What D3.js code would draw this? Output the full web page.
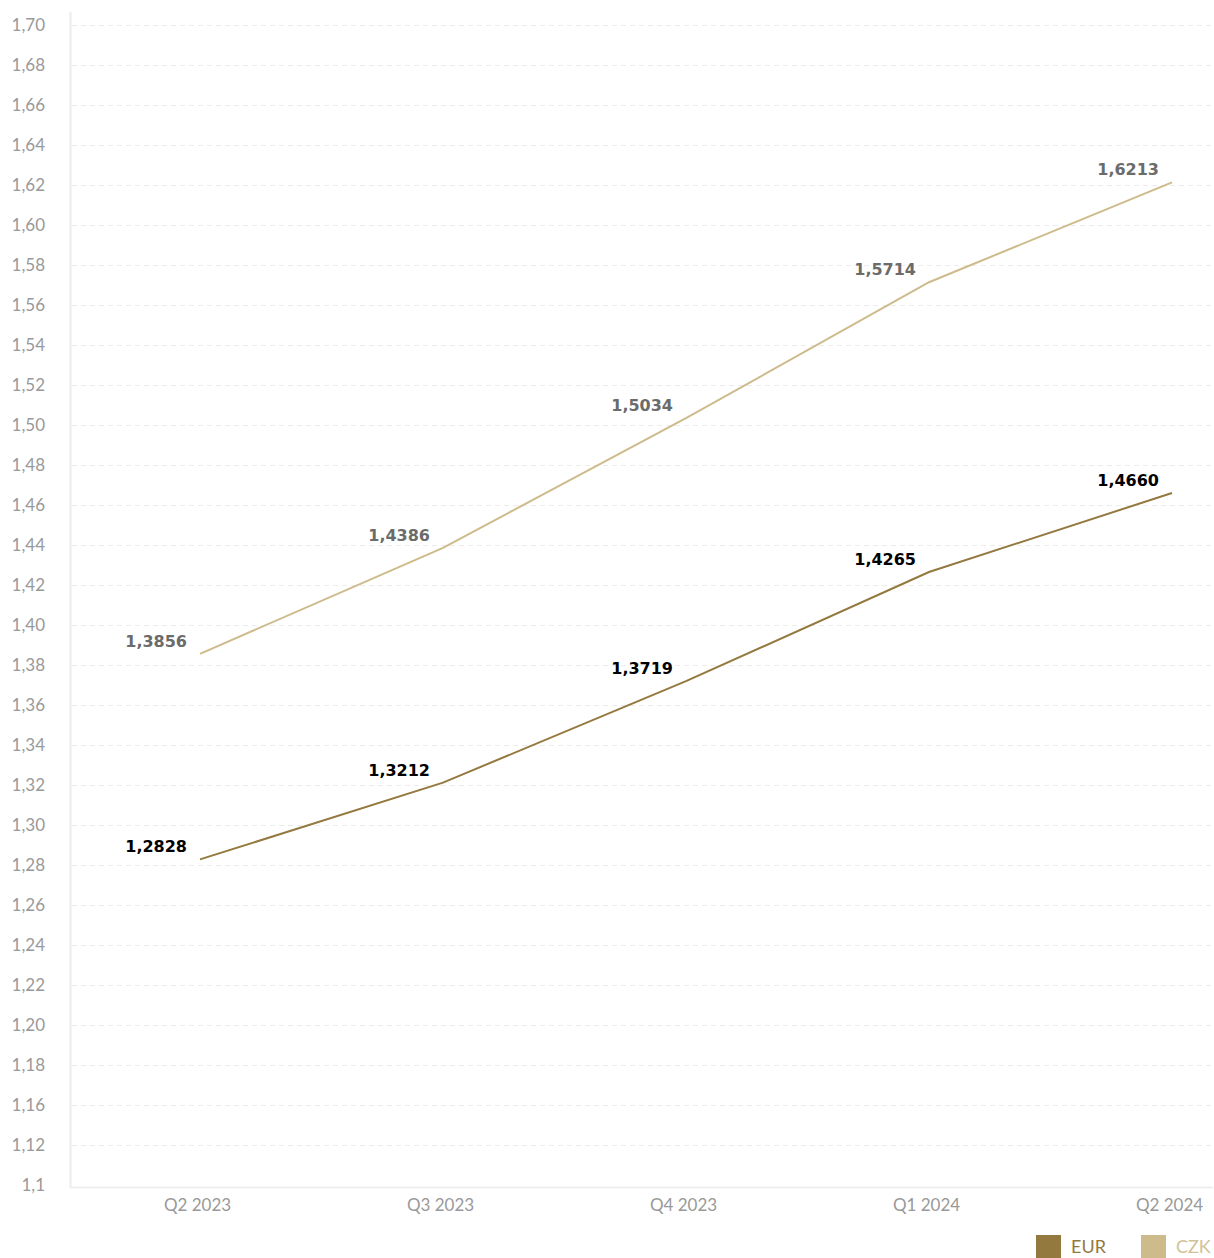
<!DOCTYPE html>
<html>
<head>
<meta charset="utf-8">
<script src="https://cdn.jsdelivr.net/npm/d3@7"></script>
<style>
  html, body { margin: 0; padding: 0; background: #fff; }
  svg { display: block; }
</style>
</head>
<body>
<svg id="chart" width="1214" height="1258"></svg>
<script>
// Quarterly index values per currency
const quarters = ["Q2 2023", "Q3 2023", "Q4 2023", "Q1 2024", "Q2 2024"];
const eurValues = [1.2828, 1.3212, 1.3719, 1.4265, 1.4660];
const czkValues = [1.3856, 1.4386, 1.5034, 1.5714, 1.6213];
const seriesNames = ["EUR", "CZK"];
const seriesColors = ["#94793f", "#cdbb8b"];
const labelColors = ["#000000", "#6b6b6b"];
const legendTextColors = ["#94793f", "#d2c299"];

// Y ticks shown on the axis
const yTicks = [1.70, 1.68, 1.66, 1.64, 1.62, 1.60, 1.58, 1.56, 1.54, 1.52, 1.50,
  1.48, 1.46, 1.44, 1.42, 1.40, 1.38, 1.36, 1.34, 1.32, 1.30, 1.28, 1.26, 1.24,
  1.22, 1.20, 1.18, 1.16, 1.12, 1.1];

const svg = d3.select("#chart");
const plotLeft = 70, plotRight = 1213, plotBottom = 1185;
const axisFont = "Lato, 'Open Sans', sans-serif";

// Evenly spaced tick rows; the low end of the axis is compressed
const y = d3.scaleLinear()
  .domain([1.10, 1.12, 1.16, 1.70])
  .range([1185, 1145, 1105, 25]);

const x = d3.scalePoint()
  .domain(quarters)
  .range([200, 1172]);

const fmtTick = v => v === 1.1 ? "1,1" : v.toFixed(2).replace(".", ",");
const fmtVal = v => v.toFixed(4).replace(".", ",");

// Gridlines
svg.append("g")
  .selectAll("line")
  .data(yTicks.slice(0, -1))
  .join("line")
  .attr("x1", plotLeft + 2).attr("x2", plotRight)
  .attr("y1", d => Math.round(y(d)) + 0.5).attr("y2", d => Math.round(y(d)) + 0.5)
  .attr("stroke", "#ececec")
  .attr("stroke-width", 1)
  .attr("stroke-dasharray", "5,4");

// Y axis
const yAxis = d3.axisLeft(y)
  .tickValues(yTicks)
  .tickSize(0)
  .tickPadding(25)
  .tickFormat(fmtTick);
const gy = svg.append("g")
  .attr("transform", `translate(${plotLeft},0)`)
  .call(yAxis);
gy.select(".domain").remove();
gy.selectAll("text")
  .attr("fill", "#999999")
  .style("font-family", axisFont)
  .style("font-weight", 400)
  .style("font-size", "17px");

svg.append("line")
  .attr("x1", plotLeft + 0.5).attr("x2", plotLeft + 0.5)
  .attr("y1", 12).attr("y2", 1188)
  .attr("stroke", "#ececec").attr("stroke-width", 2);

// X axis
const xAxis = d3.axisBottom(x).tickSize(0).tickPadding(12);
const gx = svg.append("g")
  .attr("transform", `translate(0,${plotBottom + 2})`)
  .call(xAxis);
gx.select(".domain").remove();
gx.selectAll("text")
  .attr("fill", "#999999")
  .attr("dx", "-3")
  .style("font-family", axisFont)
  .style("font-weight", 400)
  .style("font-size", "17px");

svg.append("line")
  .attr("x1", plotLeft).attr("x2", plotRight)
  .attr("y1", plotBottom + 2.5).attr("y2", plotBottom + 2.5)
  .attr("stroke", "#ececec").attr("stroke-width", 1.5);

// Lines and value labels
const series = [eurValues, czkValues];
const line = d3.line()
  .x((d, i) => x(quarters[i]))
  .y(d => y(d));

series.forEach((vals, si) => {
  svg.append("path")
    .datum(vals)
    .attr("d", line)
    .attr("fill", "none")
    .attr("stroke", seriesColors[si])
    .attr("stroke-width", 2);

  svg.append("g")
    .selectAll("text")
    .data(vals)
    .join("text")
    .attr("x", (d, i) => x(quarters[i]) - 13)
    .attr("y", d => y(d) - 7)
    .attr("text-anchor", "end")
    .attr("fill", labelColors[si])
    .style("font-family", "'DejaVu Sans', sans-serif")
    .style("font-weight", "bold")
    .style("font-size", "16px")
    .text(fmtVal);
});

// Legend
const legend = svg.append("g");
const legendX = [1036, 1141];
seriesNames.forEach((name, i) => {
  legend.append("rect")
    .attr("x", legendX[i]).attr("y", 1235)
    .attr("width", 25).attr("height", 24)
    .attr("fill", seriesColors[i]);
  legend.append("text")
    .attr("x", legendX[i] + 35).attr("y", 1253)
    .attr("fill", legendTextColors[i])
    .style("font-family", axisFont)
    .style("font-weight", 400)
    .style("font-size", "18px")
    .text(name);
});
</script>
</body>
</html>
